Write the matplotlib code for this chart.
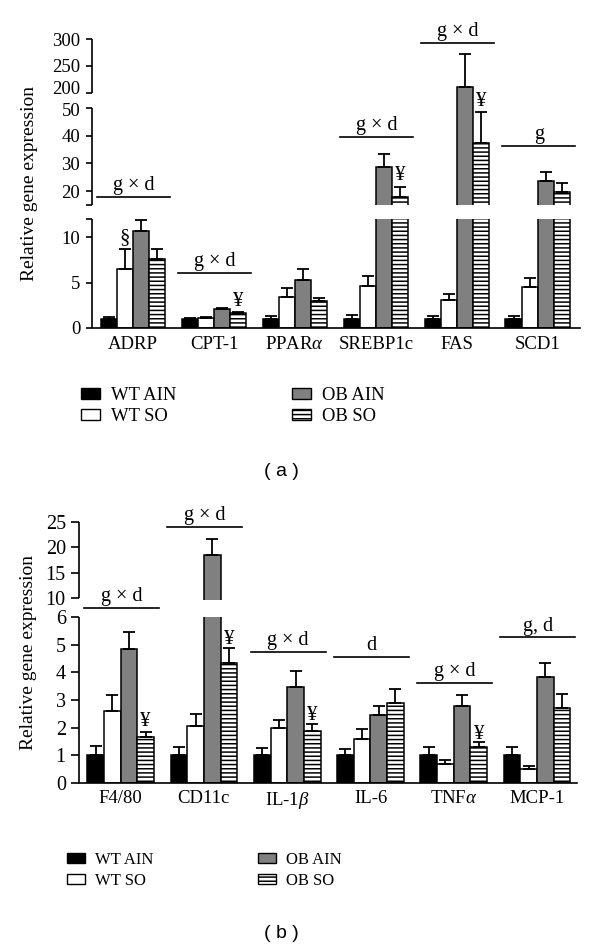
import numpy as np
import matplotlib
matplotlib.use("Agg")
import matplotlib.pyplot as plt
from matplotlib.patches import Patch

plt.rcParams['font.family'] = ['Liberation Serif', 'DejaVu Serif']
plt.rcParams['mathtext.fontset'] = 'custom'
plt.rcParams['mathtext.rm'] = 'Liberation Serif'
plt.rcParams['mathtext.it'] = 'Liberation Serif:italic'
plt.rcParams['hatch.linewidth'] = 1.1

groups = ["WT AIN", "WT SO", "OB AIN", "OB SO"]

# ---- panel (a): lipid genes ----
genes_a = ["ADRP", "CPT-1", r"PPAR$\alpha$", "SREBP1c", "FAS", "SCD1"]
wt_ain_a = [1.0, 1.0, 1.0, 1.0, 1.0, 1.0]
wt_ain_a_sem = [0.25, 0.1, 0.35, 0.4, 0.3, 0.3]
wt_so_a = [6.5, 1.15, 3.4, 4.6, 3.05, 4.5]
wt_so_a_sem = [2.2, 0.1, 1.0, 1.1, 0.65, 1.0]
ob_ain_a = [10.7, 2.05, 5.25, 28.7, 211, 23.7]
ob_ain_a_sem = [1.2, 0.15, 1.3, 4.7, 61, 3.2]
ob_so_a = [7.6, 1.6, 3.0, 17.9, 37.4, 19.7]
ob_so_a_sem = [1.1, 0.12, 0.25, 3.6, 11.2, 3.2]
sig_a = ["g × d", "g × d", "", "g × d", "g × d", "g"]
sig_a_y = [17.9, 6.05, 0, 39.5, 292.6, 36.3]
# (symbol, gene index, bar index, y)
marks_a = [("§", 0, 1, 9.9), ("¥", 1, 3, 2.9), ("¥", 3, 3, 25.8), ("¥", 4, 3, 110)]

# ---- panel (b): inflammatory genes ----
genes_b = ["F4/80", "CD11c", r"IL-1$\beta$", "IL-6", r"TNF$\alpha$", "MCP-1"]
wt_ain_b = [1.0, 1.0, 1.0, 1.0, 1.0, 1.0]
wt_ain_b_sem = [0.33, 0.3, 0.27, 0.23, 0.3, 0.3]
wt_so_b = [2.6, 2.06, 1.98, 1.58, 0.68, 0.5]
wt_so_b_sem = [0.58, 0.43, 0.29, 0.37, 0.14, 0.12]
ob_ain_b = [4.84, 18.5, 3.47, 2.45, 2.78, 3.83]
ob_ain_b_sem = [0.61, 3.1, 0.58, 0.33, 0.39, 0.5]
ob_so_b = [1.66, 4.33, 1.88, 2.89, 1.3, 2.7]
ob_so_b_sem = [0.18, 0.54, 0.25, 0.49, 0.18, 0.5]
sig_b = ["g × d", "g × d", "g × d", "d", "g × d", "g, d"]
sig_b_y = [7.9, 24.0, 4.73, 4.55, 3.61, 5.27]
marks_b = [("¥", 0, 3, 2.24), ("¥", 1, 3, 5.2), ("¥", 2, 3, 2.45), ("¥", 4, 3, 1.77)]

faces = ["black", "white", "#808080", "white"]
hatches = [None, None, None, "----"]
W = 0.2


def piecewise(data_bp, px_bp):
    fwd = lambda y: np.interp(y, data_bp, px_bp)
    inv = lambda p: np.interp(p, px_bp, data_bp)
    return fwd, inv


def panel(ax, genes, means, sems, sig, sig_y, marks, data_bp, px_bp, ylim,
          spine_segs, yticks, ylabels, gap, xlim, tick_len, lab_pad, ylab_x, fs,
          nudged=()):
    ax.set_yscale('function', functions=piecewise(data_bp, px_bp))
    x = np.arange(len(genes))
    for k in range(4):
        ax.bar(x + (k - 1.5) * W, means[k], W, color=faces[k], edgecolor='black',
               linewidth=1.1, hatch=hatches[k], zorder=2)
        ax.errorbar(x + (k - 1.5) * W, means[k],
                    yerr=[np.zeros(len(genes)), sems[k]], fmt='none',
                    ecolor='black', elinewidth=1.3, capsize=4, capthick=1.3, zorder=2)
    # white band for the broken axis
    ax.axhspan(gap[0], gap[1], color='white', zorder=3, lw=0)
    ax.set_xlim(*xlim)
    ax.set_ylim(*ylim)
    for s in ['top', 'right', 'left']:
        ax.spines[s].set_visible(False)
    ax.spines['bottom'].set_linewidth(1.2)
    for a, b in spine_segs:
        ax.plot([xlim[0], xlim[0]], [a, b], color='black', lw=1.2,
                clip_on=False, zorder=5, solid_capstyle='butt')
    ax.set_yticks(yticks)
    ax.set_yticklabels(ylabels)
    ax.yaxis.set_minor_locator(matplotlib.ticker.NullLocator())
    ax.tick_params(axis='y', length=tick_len, width=1.2, labelsize=fs, pad=4)
    # labels at the axis break, nudged apart a little
    for lab, yv, dy in nudged:
        ax.annotate(lab, (0, yv), xycoords=('axes fraction', 'data'),
                    xytext=(-(tick_len + 4), dy), textcoords='offset points',
                    ha='right', va='center', fontsize=fs, annotation_clip=False)
    ax.set_xticks(x)
    ax.set_xticklabels(genes, fontsize=13.5)
    ax.tick_params(axis='x', length=0, pad=lab_pad)
    ax.set_ylabel("Relative gene expression", fontsize=14)
    ax.yaxis.set_label_coords(ylab_x, 0.5)
    for i, (txt, yy) in enumerate(zip(sig, sig_y)):
        if not txt:
            continue
        ax.plot([i - 0.44, i + 0.46], [yy, yy], color='black', lw=1.2,
                clip_on=False, zorder=4)
        ax.annotate(txt, (i + 0.01, yy), xytext=(0, 1.2), textcoords='offset points',
                    ha='center', va='bottom', fontsize=14.5, zorder=4, annotation_clip=False)
    for sym, i, k, yy in marks:
        ax.text(i + (k - 1.5) * W, yy, sym, ha='center', va='center',
                fontsize=15, zorder=4)


fig = plt.figure(figsize=(6, 9.48), dpi=100)

# panel (a) axes: x 92..580 px, y 39..328 px
ax_a = fig.add_axes([92 / 600, (948 - 328) / 948, 488 / 600, 289 / 948])
panel(ax_a, genes_a,
      [wt_ain_a, wt_so_a, ob_ain_a, ob_so_a],
      [wt_ain_a_sem, wt_so_a_sem, ob_ain_a_sem, ob_so_a_sem],
      sig_a, sig_a_y, marks_a,
      [-100, 0, 12, 15, 50, 200, 300, 1000],
      [-908, 0, 109, 123, 220, 235, 289, 667],
      (0, 300), [(0, 12), (15, 50), (200, 300)],
      [0, 5, 10, 12, 15, 20, 30, 40, 50, 200, 250, 300],
      ['0', '5', '10', '', '', '20', '30', '40', '', '', '250', '300'],
      (12, 15), (-0.506, 5.52), 4.5, 6, -0.11, 13.5,
      nudged=[("200", 200, 2.2), ("50", 50, -2.2)])

# panel (b) axes: x 79..577 px, y 522..783 px
ax_b = fig.add_axes([79 / 600, (948 - 783) / 948, 498 / 600, 261 / 948])
panel(ax_b, genes_b,
      [wt_ain_b, wt_so_b, ob_ain_b, ob_so_b],
      [wt_ain_b_sem, wt_so_b_sem, ob_ain_b_sem, ob_so_b_sem],
      sig_b, sig_b_y, marks_b,
      [-100, 0, 6, 10, 25, 100],
      [-2770, 0, 166, 185, 261, 641],
      (0, 25), [(0, 6), (10, 25)],
      [0, 1, 2, 3, 4, 5, 6, 10, 15, 20, 25],
      ['0', '1', '2', '3', '4', '5', '6', '10', '15', '20', '25'],
      (6.05, 9.6), (-0.5, 5.48), 5.5, 5, -0.084, 14.5)

handles = [Patch(facecolor=faces[k], edgecolor='black', hatch=hatches[k], lw=1.0)
           for k in range(4)]

fig.legend(handles, groups, loc='upper left', ncol=2, frameon=False,
           bbox_to_anchor=(81 / 600, 1 - 387 / 948), borderpad=0, borderaxespad=0,
           fontsize=13.4, handlelength=1.02, handleheight=0.6, handletextpad=0.6,
           columnspacing=6.2, labelspacing=0.22)
fig.legend(handles, groups, loc='upper left', ncol=2, frameon=False,
           bbox_to_anchor=(67 / 600, 1 - 852 / 948), borderpad=0, borderaxespad=0,
           fontsize=12, handlelength=1.08, handleheight=0.6, handletextpad=0.6,
           columnspacing=6.3, labelspacing=0.3)

fig.text(281 / 600, 1 - 472 / 948, "( a )", ha='center', va='center',
         family='Liberation Sans', fontsize=14)
fig.text(281 / 600, 1 - 933 / 948, "( b )", ha='center', va='center',
         family='Liberation Sans', fontsize=14)

fig.savefig("out.png", dpi=100)
